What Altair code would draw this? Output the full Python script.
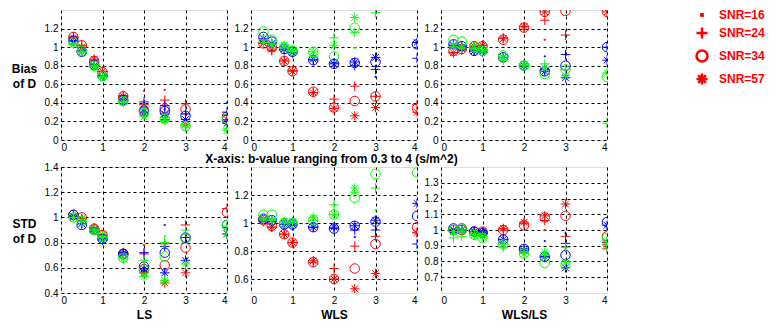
import altair as alt
import pandas as pd

B_VALUES = [0.3, 0.5, 0.8, 1.0, 1.5, 2.0, 2.5, 3.0, 4.0]
SNR_LABELS = ["SNR=16", "SNR=24", "SNR=34", "SNR=57"]
COLOR_KEYS = ["r", "b", "g"]
COLOR_HEX = ["#ff0000", "#0000ff", "#00ff00"]

# value lists per colour (r/b/g) and SNR (16/24/34/57), one entry per b-value
BIAS_LS = {
    "r": {16: [1.10, 1.01, 0.86, 0.74, 0.47, 0.53, 0.54, None, 0.27],
          24: [1.11, 1.02, 0.86, 0.74, 0.48, 0.38, 0.43, 0.39, 0.27],
          34: [1.11, 1.02, 0.85, 0.73, 0.47, 0.32, 0.34, 0.33, 0.25],
          57: [1.10, 1.00, 0.87, 0.74, 0.47, 0.33, 0.22, 0.17, 0.22]},
    "b": {16: [1.06, 0.96, 0.80, 0.69, 0.43, 0.32, 0.33, 0.23, 0.40],
          24: [1.07, 0.96, 0.81, 0.69, 0.44, 0.41, 0.37, 0.28, 0.30],
          34: [1.07, 0.95, 0.81, 0.69, 0.43, 0.31, 0.31, 0.26, 0.22],
          57: [1.06, 0.95, 0.80, 0.68, 0.42, 0.30, 0.28, 0.22, 0.18]},
    "g": {16: [1.04, 0.95, 0.80, 0.68, 0.41, 0.35, 0.24, 0.15, 0.14],
          24: [1.04, 0.95, 0.80, 0.68, 0.41, 0.33, 0.24, 0.16, 0.12],
          34: [1.05, 0.96, 0.80, 0.69, 0.42, 0.29, 0.23, 0.15, 0.23],
          57: [1.03, 0.95, 0.79, 0.68, 0.41, 0.25, 0.21, 0.14, 0.10]},
}
BIAS_WLS = {
    "r": {16: [1.04, 0.97, 0.85, 0.74, 0.50, 0.35, 0.27, 0.35, 0.30],
          24: [1.05, 0.96, 0.86, 0.75, 0.51, 0.44, 0.58, 0.47, 0.38],
          34: [1.04, 1.00, 0.85, 0.74, 0.52, 0.35, 0.42, 0.47, 0.34],
          57: [1.04, 0.98, 0.85, 0.74, 0.51, 0.34, 0.26, 0.35, 0.30]},
    "b": {16: [1.08, 1.04, 0.98, 0.94, 0.86, 0.82, 0.82, 0.68, 1.04],
          24: [1.08, 1.03, 0.97, 0.94, 0.86, 0.83, 0.80, 0.76, 0.88],
          34: [1.11, 1.06, 0.98, 0.95, 0.86, 0.82, 0.83, 0.84, 1.03],
          57: [1.09, 1.04, 0.98, 0.94, 0.87, 0.82, 0.84, 0.89, 1.05]},
    "g": {16: [1.05, 1.01, 1.00, 0.96, 0.95, 1.02, 0.99, None, None],
          24: [1.08, 1.03, 1.00, 0.97, 0.90, 1.10, 1.16, 1.37, None],
          34: [1.17, 1.08, 1.00, 0.96, 0.95, 0.90, 1.21, None, None],
          57: [1.05, 1.03, 1.02, 0.96, 0.95, 1.02, 1.32, None, None]},
}
BIAS_RATIO = {
    "r": {16: [0.94, 0.98, 1.00, 1.02, 1.08, 1.22, 1.08, None, None],
          24: [0.94, 0.97, 1.00, 1.02, 1.10, 1.22, 1.29, 1.13, None],
          34: [0.96, 0.98, 1.01, 1.01, 1.08, 1.21, 1.38, 1.39, 1.38],
          57: [0.94, 0.98, 1.01, 1.02, 1.09, 1.22, 1.38, None, 1.38]},
    "b": {16: [1.00, 1.00, 0.96, 0.95, 0.89, 0.80, 0.90, 0.70, 0.86],
          24: [1.02, 1.01, 0.96, 0.95, 0.89, 0.80, 0.76, 0.92, 1.00],
          34: [1.03, 1.01, 0.96, 0.96, 0.89, 0.80, 0.74, 0.80, 1.00],
          57: [1.02, 1.00, 0.96, 0.95, 0.89, 0.80, 0.74, 0.67, 0.86]},
    "g": {16: [1.00, 0.99, 0.98, 0.96, 0.88, 0.80, 0.78, 0.75, 0.72],
          24: [1.00, 0.99, 0.99, 0.96, 0.86, 0.80, 0.82, 0.76, 0.18],
          34: [1.08, 1.06, 1.00, 0.96, 0.91, 0.80, 0.71, 0.76, 0.68],
          57: [1.01, 1.00, 0.99, 0.96, 0.89, 0.81, 0.78, 0.69, 0.72]},
}
STD_LS = {
    "r": {16: [1.01, 1.00, 0.91, 0.86, 0.72, 0.78, None, None, None],
          24: [1.01, 0.99, 0.92, 0.86, 0.72, 0.71, 0.79, 0.94, 1.07],
          34: [1.02, 1.00, 0.91, 0.86, 0.71, 0.59, 0.62, 0.76, 1.04],
          57: [1.01, 0.99, 0.91, 0.86, 0.72, 0.56, 0.48, 0.56, 0.87]},
    "b": {16: [1.01, 0.95, 0.90, 0.83, 0.72, 0.60, 0.94, None, None],
          24: [1.01, 0.95, 0.90, 0.83, 0.72, 0.72, 0.77, 0.84, 0.92],
          34: [1.02, 0.94, 0.90, 0.83, 0.71, 0.61, 0.72, 0.84, 0.94],
          57: [1.01, 0.95, 0.90, 0.82, 0.71, 0.59, 0.56, 0.66, 0.87]},
    "g": {16: [1.00, 0.97, 0.90, 0.85, 0.68, 0.55, 0.85, None, None],
          24: [1.00, 0.97, 0.90, 0.85, 0.68, 0.66, 0.80, 0.90, 0.93],
          34: [1.00, 0.97, 0.90, 0.85, 0.68, 0.58, 0.69, 0.83, 0.94],
          57: [1.00, 0.97, 0.90, 0.84, 0.67, 0.53, 0.50, 0.63, 0.87]},
}
STD_WLS = {
    "r": {16: [1.02, 0.97, 0.92, 0.86, 0.72, 0.60, None, None, None],
          24: [1.01, 0.97, 0.92, 0.86, 0.72, 0.675, 0.835, 0.905, 0.93],
          34: [1.02, 0.98, 0.92, 0.86, 0.72, 0.60, 0.675, 0.85, 0.97],
          57: [1.02, 0.97, 0.92, 0.86, 0.73, 0.60, 0.53, 0.64, 0.93]},
    "b": {16: [1.03, 1.02, 0.99, 0.99, 0.97, 0.96, 0.90, None, None],
          24: [1.02, 1.01, 0.99, 0.98, 0.97, 0.96, 0.95, 0.95, 0.85],
          34: [1.03, 1.02, 0.99, 0.99, 0.97, 0.96, 0.98, 1.01, 1.05],
          57: [1.03, 1.02, 0.99, 0.99, 0.97, 0.97, 0.98, 1.02, 1.14]},
    "g": {16: [1.03, 1.02, 1.00, 1.00, 1.02, 1.06, None, 1.09, 0.80],
          24: [1.02, 1.02, 1.01, 1.00, 1.02, 1.13, 1.22, 1.25, None],
          34: [1.06, 1.06, 1.00, 1.00, 1.02, 1.06, 1.18, 1.35, 1.36],
          57: [1.03, 1.02, 1.01, 1.01, 1.04, 1.06, 1.25, None, None]},
}
STD_RATIO = {
    "r": {16: [1.00, 1.00, 0.99, 0.99, 1.00, 1.04, 1.00, None, None],
          24: [0.99, 1.00, 0.99, 0.98, 1.00, 1.04, 1.06, 0.96, 0.88],
          34: [1.00, 1.00, 0.99, 0.99, 1.00, 1.03, 1.08, 1.09, 0.96],
          57: [1.00, 1.00, 0.99, 0.99, 1.01, 1.05, 1.09, 1.165, 0.91]},
    "b": {16: [1.00, 1.00, 0.99, 0.98, 0.94, 0.88, 0.93, 0.98, None],
          24: [1.00, 1.00, 0.99, 0.98, 0.94, 0.88, 0.83, 0.915, 0.92],
          34: [1.01, 1.01, 0.99, 0.98, 0.94, 0.88, 0.83, 0.84, 1.05],
          57: [1.00, 1.00, 0.99, 0.98, 0.94, 0.87, 0.83, 0.76, 1.03]},
    "g": {16: [0.99, 0.99, 0.97, 0.96, 0.91, 0.85, 0.85, 0.88, 0.94],
          24: [0.95, 0.96, 0.97, 0.96, 0.89, 0.86, 0.84, 0.89, 0.93],
          34: [1.00, 1.01, 0.97, 0.95, 0.91, 0.85, 0.79, 0.78, 0.95],
          57: [0.99, 1.00, 0.97, 0.96, 0.91, 0.85, 0.86, 0.79, 0.90]},
}

DOT = "M-0.12,-0.12L0.12,-0.12L0.12,0.12L-0.12,0.12Z"
PLUS = "M-1,0L1,0M0,-1L0,1"
STAR = "M-1,0L1,0M0,-1L0,1M-0.7,-0.7L0.7,0.7M-0.7,0.7L0.7,-0.7"

FONT = "Liberation Sans"
GRID = dict(grid=True, gridColor="#000000", gridDash=[3, 3], gridOpacity=1,
            gridWidth=1)


def to_frame(d):
    rows = []
    for c in COLOR_KEYS:
        for snr, lab in zip([16, 24, 34, 57], SNR_LABELS):
            for b, v in zip(B_VALUES, d[c][snr]):
                if v is not None:
                    rows.append({"b": b, "v": v, "col": c, "snr": lab})
    return pd.DataFrame(rows)


def panel(d, ydom, yvals, h, ytitle=None, xtitle=None, xtitle_x=83, xtitle_y=21):
    yaxis_kw = dict(values=yvals, format="~g", ticks=False, domain=False,
                    labelPadding=3, **GRID)
    if ytitle is not None:
        yaxis_kw.update(title=ytitle, titleAngle=0, titleAlign="center",
                        titleBaseline="middle", titleX=-37, titleY=h / 2 - 7,
                        titleFontSize=12, titleFontWeight="bold", titleLineHeight=15)
    else:
        yaxis_kw.update(title=None)
    xaxis_kw = dict(values=[0, 1, 2, 3, 4], format="d", ticks=False,
                    domain=False, labelPadding=2, **GRID)
    if xtitle is not None:
        xaxis_kw.update(title=xtitle, titleX=xtitle_x, titleY=xtitle_y,
                        titleAlign="center", titleBaseline="middle",
                        titleFontSize=12, titleFontWeight="bold")
    else:
        xaxis_kw.update(title=None)
    return alt.Chart(to_frame(d)).mark_point(
        filled=False, size=90, strokeWidth=1, opacity=1, clip=True
    ).encode(
        x=alt.X("b:Q", scale=alt.Scale(domain=[0, 4], nice=False, zero=False),
                axis=alt.Axis(**xaxis_kw)),
        y=alt.Y("v:Q", scale=alt.Scale(domain=ydom, nice=False, zero=False),
                axis=alt.Axis(**yaxis_kw)),
        color=alt.Color("col:N", scale=alt.Scale(domain=COLOR_KEYS, range=COLOR_HEX),
                        legend=None),
        shape=alt.Shape("snr:N", scale=alt.Scale(domain=SNR_LABELS,
                                                 range=[DOT, PLUS, "circle", STAR]),
                        legend=alt.Legend(orient="none", legendX=634, legendY=-2,
                                          title=None, symbolSize=120,
                                          symbolStrokeWidth=2.5,
                                          symbolStrokeColor="#ff0000",
                                          symbolFillColor="transparent",
                                          labelColor="#ff0000", labelFontSize=12,
                                          labelFontWeight="bold", labelFont=FONT,
                                          rowPadding=1, labelOffset=10)),
    ).properties(width=166, height=h)


TOP_Y = [0, 0.2, 0.4, 0.6, 0.8, 1.0, 1.2]
p1 = panel(BIAS_LS, [0, 1.4], TOP_Y, 130, ytitle=["Bias", "of D"])
p2 = panel(BIAS_WLS, [0, 1.4], TOP_Y, 130,
           xtitle="X-axis: b-value ranging from 0.3 to 4 (s/m^2)", xtitle_x=80,
           xtitle_y=18)
p3 = panel(BIAS_RATIO, [0, 1.4], TOP_Y, 130)
p4 = panel(STD_LS, [0.4, 1.4], [0.4, 0.6, 0.8, 1.0, 1.2, 1.4], 126,
           ytitle=["STD", "of D"], xtitle="LS")
p5 = panel(STD_WLS, [0.5, 1.4], [0.6, 0.8, 1.0, 1.2], 126, xtitle="WLS")
p6 = panel(STD_RATIO, [0.6, 1.4], [0.7, 0.8, 0.9, 1.0, 1.1, 1.2, 1.3], 126,
           xtitle="WLS/LS")

chart = alt.concat(
    p1, p2, p3, p4, p5, p6, columns=3,
    spacing=alt.RowColnumber(row=27, column=24), bounds="flush"
).configure_view(
    stroke="#000000", strokeWidth=1
).configure_axis(
    labelFont=FONT, labelFontSize=10, labelColor="#000000",
    titleFont=FONT, titleColor="#000000",
).configure(background="white", padding={"left": 2, "top": 0, "right": 4, "bottom": 4})

chart.save("out.html", embed_options={"renderer": "svg", "actions": False})
